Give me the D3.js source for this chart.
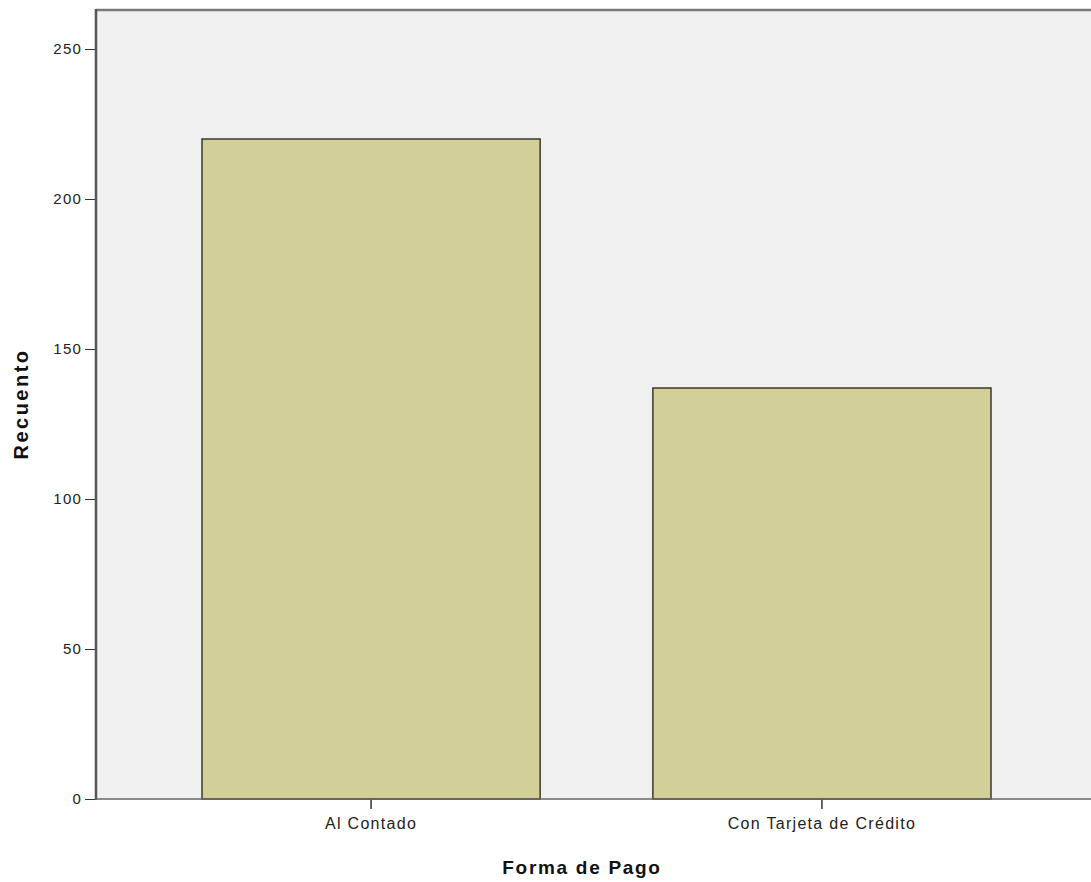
<!DOCTYPE html>
<html>
<head>
<meta charset="utf-8">
<script src="https://cdn.jsdelivr.net/npm/d3@7"></script>
<style>
  body { margin: 0; background: #fff; }
  svg { display: block; }
  text { font-family: "Liberation Sans", Arial, sans-serif; }
</style>
</head>
<body>
<svg id="chart" width="1091" height="882"></svg>
<script>
const categories = ["Al Contado", "Con Tarjeta de Crédito"];
const counts = [220, 137];
const yTicks = [0, 50, 100, 150, 200, 250];

const svg = d3.select("#chart");
const pLeft = 96, pTop = 10, pBottom = 799, pRight = 1100;

const x = d3.scaleBand().domain(categories).range([202, 991]).paddingInner(0.25).paddingOuter(0);
const y = d3.scaleLinear().domain([0, 263]).range([pBottom, pTop]);

// plot background
svg.append("rect").attr("x", pLeft).attr("y", pTop).attr("width", pRight - pLeft).attr("height", pBottom - pTop)
  .attr("fill", "#f0f0f0");

// top border
svg.append("line").attr("x1", pLeft).attr("x2", pRight).attr("y1", pTop).attr("y2", pTop)
  .attr("stroke", "#7a7a7a").attr("stroke-width", 2.5);

// bars
svg.selectAll("rect.bar").data(categories).enter().append("rect")
  .attr("class", "bar")
  .attr("x", d => x(d))
  .attr("y", (d, i) => y(counts[i]))
  .attr("width", x.bandwidth())
  .attr("height", (d, i) => y(0) - y(counts[i]))
  .attr("fill", "#d3cf98")
  .attr("stroke", "#3c3a2c")
  .attr("stroke-width", 1.5);

// y axis
const yAxis = d3.axisLeft(y).tickValues(yTicks).tickSize(11).tickPadding(3).tickFormat(d3.format("d"));
const gy = svg.append("g").attr("transform", `translate(${pLeft},0)`).call(yAxis);
gy.select(".domain").remove();
gy.selectAll(".tick line").attr("stroke", "#333");
gy.selectAll(".tick text").attr("font-size", 15).attr("letter-spacing", 1.2).attr("fill", "#222");
svg.append("line").attr("x1", pLeft).attr("x2", pLeft).attr("y1", pTop - 1).attr("y2", pBottom + 1)
  .attr("stroke", "#555").attr("stroke-width", 2.5);

// x axis
const xAxis = d3.axisBottom(x).tickSize(10).tickPadding(9);
const gx = svg.append("g").attr("transform", `translate(0,${pBottom})`).call(xAxis);
gx.select(".domain").remove();
gx.selectAll(".tick line").attr("stroke", "#333").attr("stroke-width", 1.5);
gx.selectAll(".tick text").attr("font-size", 16).attr("letter-spacing", 1.3).attr("fill", "#222");
svg.append("line").attr("x1", pLeft).attr("x2", pRight).attr("y1", pBottom).attr("y2", pBottom)
  .attr("stroke", "#666").attr("stroke-width", 1.5);

// axis titles
svg.append("text").attr("x", 582).attr("y", 874).attr("text-anchor", "middle")
  .attr("font-size", 19).attr("font-weight", "bold").attr("letter-spacing", 1.7).attr("fill", "#111")
  .text("Forma de Pago");
svg.append("text").attr("transform", "translate(28,404) rotate(-90)").attr("text-anchor", "middle")
  .attr("font-size", 20).attr("font-weight", "bold").attr("letter-spacing", 2.5).attr("fill", "#111")
  .text("Recuento");
</script>
</body>
</html>
